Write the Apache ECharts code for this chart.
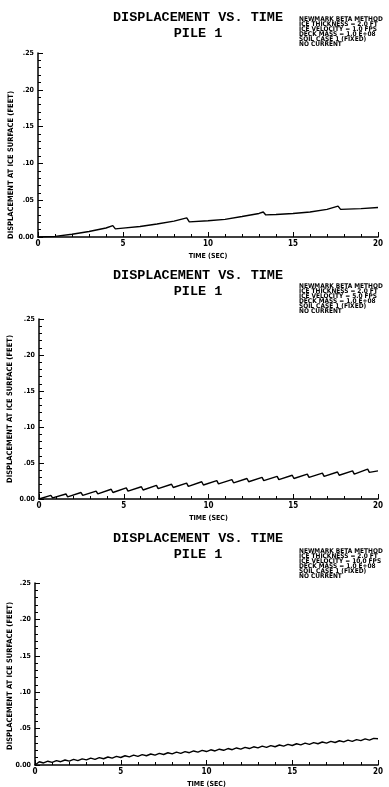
<!DOCTYPE html>
<html>
<head>
  <meta charset="utf-8">
  <title>Displacement vs. Time</title>
  <script src="https://cdn.jsdelivr.net/npm/echarts@6/dist/echarts.min.js"></script>
  <style>
    html, body { margin: 0; padding: 0; background: #fff; }
  </style>
</head>
<body>
<div style="width:389px;height:787px;" id="main"></div>

<script type="text/javascript">
// ice velocity 1.0 fps
var time1 = [0, 1, 2, 3, 4, 4.4, 4.55, 5, 6, 7, 8, 8.75, 8.9, 10, 11, 12, 13, 13.25, 13.4, 14, 15, 16, 17, 17.65, 17.8, 19, 20];
var disp1 = [0, 0.0008, 0.0037, 0.0074, 0.0122, 0.0155, 0.0110, 0.0120, 0.0142, 0.0176, 0.0215, 0.0260, 0.0205, 0.0220, 0.0240, 0.0278, 0.0320, 0.0340, 0.0300, 0.0305, 0.0320, 0.0340, 0.0375, 0.0420, 0.0375, 0.0385, 0.0400];

// ice velocity 5.0 fps
var time2 = [0, 0.70, 0.80, 1.59, 1.69, 2.48, 2.58, 3.37, 3.47, 4.26, 4.36, 5.15, 5.25, 6.04, 6.14, 6.93, 7.03, 7.82, 7.92,
  8.71, 8.81, 9.60, 9.70, 10.49, 10.59, 11.38, 11.48, 12.27, 12.37, 13.16, 13.26, 14.05, 14.15, 14.94, 15.04,
  15.83, 15.93, 16.72, 16.82, 17.61, 17.71, 18.50, 18.60, 19.39, 19.49, 20];
var disp2 = [0, 0.0050, 0.0015, 0.0070, 0.0030, 0.0090, 0.0050, 0.0110, 0.0070, 0.0135, 0.0090, 0.0155, 0.0110, 0.0170, 0.0125,
  0.0190, 0.0145, 0.0205, 0.0160, 0.0220, 0.0175, 0.0240, 0.0195, 0.0255, 0.0210, 0.0270, 0.0225, 0.0285, 0.0240,
  0.0300, 0.0255, 0.0315, 0.0270, 0.0330, 0.0285, 0.0345, 0.0300, 0.0360, 0.0315, 0.0375, 0.0330, 0.0390, 0.0345,
  0.0415, 0.0370, 0.0390];

// ice velocity 10.0 fps
var time3 = [0, 0.25, 0.5, 0.75, 1, 1.25, 1.5, 1.75, 2, 2.25, 2.5, 2.75, 3, 3.25, 3.5, 3.75, 4, 4.25, 4.5, 4.75,
  5, 5.25, 5.5, 5.75, 6, 6.25, 6.5, 6.75, 7, 7.25, 7.5, 7.75, 8, 8.25, 8.5, 8.75, 9, 9.25, 9.5, 9.75,
  10, 10.25, 10.5, 10.75, 11, 11.25, 11.5, 11.75, 12, 12.25, 12.5, 12.75, 13, 13.25, 13.5, 13.75, 14, 14.25, 14.5, 14.75,
  15, 15.25, 15.5, 15.75, 16, 16.25, 16.5, 16.75, 17, 17.25, 17.5, 17.75, 18, 18.25, 18.5, 18.75, 19, 19.25, 19.5, 19.75, 20];
var disp3 = [0, 0.0044, 0.0028, 0.0052, 0.0037, 0.0061, 0.0045, 0.0069, 0.0053, 0.0077, 0.0061, 0.0085, 0.0070, 0.0094, 0.0078, 0.0102, 0.0086, 0.0110, 0.0094, 0.0118,
  0.0103, 0.0127, 0.0111, 0.0135, 0.0119, 0.0143, 0.0127, 0.0151, 0.0136, 0.0160, 0.0144, 0.0168, 0.0152, 0.0176, 0.0160, 0.0184, 0.0169, 0.0193, 0.0177, 0.0201,
  0.0185, 0.0209, 0.0193, 0.0217, 0.0202, 0.0226, 0.0210, 0.0234, 0.0218, 0.0242, 0.0226, 0.0250, 0.0235, 0.0259, 0.0243, 0.0267, 0.0251, 0.0275, 0.0259, 0.0283,
  0.0268, 0.0292, 0.0276, 0.0300, 0.0284, 0.0308, 0.0292, 0.0316, 0.0301, 0.0325, 0.0309, 0.0333, 0.0317, 0.0341, 0.0325, 0.0349, 0.0334, 0.0358, 0.0342, 0.0366, 0.0360];

var velocities = ['1.0', '5.0', '10.0'];
var xTicks = [0, 5, 10, 15, 20];
var yTicks = ['0.00', '.05', '.10', '.15', '.20', '.25'];

var myChart = echarts.init(document.getElementById('main'));

var pairs = function(t, d) {
  var out = [];
  for (var i = 0; i < t.length; i++) out.push([t[i], d[i]]);
  return out;
};

var grids = [
  { left: 38, top: 53, width: 340, height: 184, outerBoundsMode: 'none' },
  { left: 39, top: 319, width: 339, height: 180, outerBoundsMode: 'none' },
  { left: 35, top: 583, width: 343, height: 182, outerBoundsMode: 'none' }
];
var titleTops = [6, 264, 527];
var noteTops = [12, 279, 544];
var yNameGaps = [23, 25, 21];
var yNamePads = [[0, 40, 0, 0], [0, 0, 0, 0], [0, 4, 0, 0]];
var allTimes = [time1, time2, time3];
var allDisp = [disp1, disp2, disp3];

var mono = '"Liberation Mono", "DejaVu Sans Mono", monospace';
var cond = '"DejaVu Sans Condensed", "DejaVu Sans", sans-serif';

var option = {
  animation: false,
  backgroundColor: '#fff',
  title: [],
  grid: [],
  xAxis: [],
  yAxis: [],
  series: []
};

for (var k = 0; k < 3; k++) {
  option.grid.push(grids[k]);
  option.title.push({
    text: 'DISPLACEMENT VS. TIME',
    subtext: 'PILE 1',
    left: 193,
    top: titleTops[k],
    textAlign: 'center',
    itemGap: 2,
    textStyle: { fontFamily: mono, fontWeight: 'bold', fontSize: 13.5, color: '#000' },
    subtextStyle: { fontFamily: mono, fontWeight: 'bold', fontSize: 13.5, color: '#000' }
  });
  option.title.push({
    text: 'NEWMARK BETA METHOD\nICE THICKNESS = 2.0 FT\nICE VELOCITY = ' + velocities[k] + ' FPS\nDECK MASS = 1.0 E+08\nSOIL CASE 1 (FIXED)\nNO CURRENT',
    left: 294,
    top: noteTops[k],
    textStyle: { fontFamily: cond, fontWeight: 'bold', fontSize: 6.5, lineHeight: 5, color: '#000' }
  });
  option.xAxis.push({
    type: 'value',
    gridIndex: k,
    min: 0,
    max: 20,
    interval: 5,
    name: 'TIME (SEC)',
    nameLocation: 'middle',
    nameGap: 16,
    nameMoveOverlap: false,
    nameTextStyle: { fontFamily: cond, fontWeight: 'bold', fontSize: 7, color: '#000' },
    axisLine: { lineStyle: { color: '#000', width: 1.5 } },
    axisTick: { inside: true, length: 5, lineStyle: { color: '#000', width: 1 } },
    minorTick: { show: true, splitNumber: 5, length: 3, lineStyle: { color: '#000', width: 1 } },
    splitLine: { show: false },
    axisLabel: {
      margin: 3,
      fontFamily: cond, fontWeight: 'bold', fontSize: 8, color: '#000',
      formatter: function(v) { return xTicks.indexOf(v) >= 0 ? String(v) : ''; }
    }
  });
  option.yAxis.push({
    type: 'value',
    gridIndex: k,
    min: 0,
    max: 0.25,
    interval: 0.05,
    name: 'DISPLACEMENT AT ICE SURFACE (FEET)',
    nameLocation: 'middle',
    nameRotate: 90,
    nameGap: yNameGaps[k],
    nameMoveOverlap: false,
    nameTextStyle: { fontFamily: cond, fontWeight: 'bold', fontSize: 7.5, color: '#000', padding: yNamePads[k] },
    axisLine: { show: true, lineStyle: { color: '#000', width: 1.5 } },
    axisTick: { show: true, inside: true, length: 5, lineStyle: { color: '#000', width: 1 } },
    minorTick: { show: true, splitNumber: 5, length: 3, lineStyle: { color: '#000', width: 1 } },
    splitLine: { show: false },
    axisLabel: {
      margin: 4,
      fontFamily: cond, fontWeight: 'bold', fontSize: 7, color: '#000',
      formatter: function(v) { return yTicks[Math.round(v / 0.05)]; }
    }
  });
  option.series.push({
    type: 'line',
    xAxisIndex: k,
    yAxisIndex: k,
    showSymbol: false,
    lineStyle: { color: '#000', width: 1.4 },
    data: pairs(allTimes[k], allDisp[k])
  });
}

myChart.setOption(option);
</script>
</body>
</html>
